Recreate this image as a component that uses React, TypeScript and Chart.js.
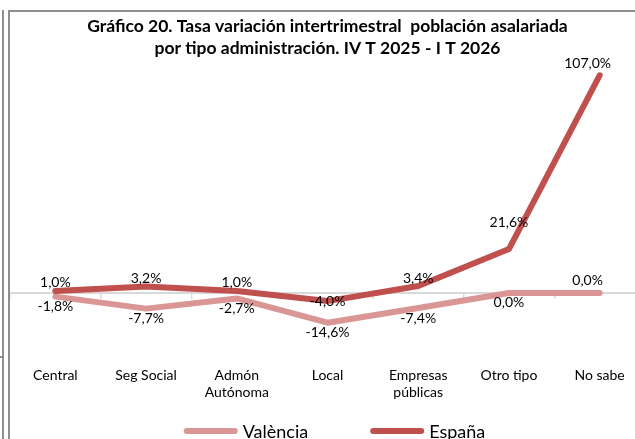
import React, { useEffect, useRef } from "react";
import { Chart, registerables } from "chart.js";

Chart.register(...registerables);

const TITLE_LINES = [
  "Gráfico 20. Tasa variación intertrimestral  población asalariada",
  "por tipo administración. IV T 2025 - I T 2026",
];
const CATEGORIES: (string | string[])[] = [
  "Central",
  "Seg Social",
  ["Admón", "Autónoma"],
  "Local",
  ["Empresas", "públicas"],
  "Otro tipo",
  "No sabe",
];
const SERIES_NAMES = ["València", "España"];
const VALENCIA = [-1.8, -7.7, -2.7, -14.6, -7.4, 0.0, 0.0];
const ESPANA = [1.0, 3.2, 1.0, -4.0, 3.4, 21.6, 107.0];
const Y_MIN = -30;
const Y_MAX = 115;

const FONT = "Lato";

const fmt = (v: number) => v.toFixed(1).replace(".", ",") + "%";

const pointLabelPlugin = {
  id: "pointLabels",
  afterDatasetsDraw(chart: any) {
    const ctx = chart.ctx;
    ctx.save();
    ctx.font = `14px ${FONT}`;
    ctx.fillStyle = "#000";
    ctx.textAlign = "center";
    ctx.textBaseline = "middle";
    chart.data.datasets.forEach((ds: any, di: number) => {
      const meta = chart.getDatasetMeta(di);
      const pos: string[] = ds.labelPos || [];
      meta.data.forEach((el: any, i: number) => {
        const v = ds.data[i];
        const p = pos[i] || "above";
        let dy = -8;
        let dx = 0;
        if (p === "below") dy = 10;
        if (p === "high") dy = -27;
        if (p === "center") dy = 0;
        if (p === "aboveLeft") {
          dy = -12;
          dx = -12;
        }
        ctx.fillText(fmt(v), el.x + dx, el.y + dy);
      });
    });
    ctx.restore();
  },
};

const lineLegendPlugin = {
  id: "lineLegend",
  afterDraw(chart: any) {
    const ctx = chart.ctx;
    const area = chart.chartArea;
    ctx.save();
    ctx.font = `18px ${FONT}`;
    ctx.textBaseline = "middle";
    ctx.textAlign = "left";
    const swatch = 54;
    const gap = 5;
    const between = 62;
    const items = chart.data.datasets.map((ds: any) => ({
      label: ds.label,
      color: ds.borderColor,
      w: swatch + gap + ctx.measureText(ds.label).width,
    }));
    const total =
      items.reduce((s: number, it: any) => s + it.w, 0) + between * (items.length - 1);
    let x = (area.left + area.right) / 2 + 7 - total / 2;
    const y = chart.height - 18;
    items.forEach((it: any) => {
      ctx.strokeStyle = it.color;
      ctx.lineWidth = 6;
      ctx.lineCap = "round";
      ctx.beginPath();
      ctx.moveTo(x + 3, y);
      ctx.lineTo(x + swatch - 3, y);
      ctx.stroke();
      ctx.fillStyle = "#000";
      ctx.fillText(it.label, x + swatch + gap, y + 1);
      x += it.w + between;
    });
    ctx.restore();
  },
};

export default function App() {
  const ref = useRef<HTMLCanvasElement>(null);

  useEffect(() => {
    document.body.style.margin = "0";
    const chart = new Chart(ref.current as HTMLCanvasElement, {
      type: "line",
      data: {
        labels: CATEGORIES as any,
        datasets: [
          {
            label: SERIES_NAMES[0],
            data: VALENCIA,
            borderColor: "#DA9694",
            backgroundColor: "#DA9694",
            borderWidth: 6,
            pointRadius: 0,
            borderCapStyle: "round",
            borderJoinStyle: "round",
            order: 1,
            labelPos: ["below", "below", "below", "below", "below", "below", "aboveLeft"],
          } as any,
          {
            label: SERIES_NAMES[1],
            data: ESPANA,
            borderColor: "#C0504D",
            backgroundColor: "#C0504D",
            borderWidth: 6,
            pointRadius: 0,
            borderCapStyle: "round",
            borderJoinStyle: "round",
            order: 0,
            labelPos: ["above", "above", "above", "center", "above", "high", "aboveLeft"],
          } as any,
        ],
      },
      options: {
        responsive: false,
        animation: false,
        devicePixelRatio: 1,
        layout: { padding: { left: 30, right: 5, top: 0, bottom: 40 } },
        plugins: {
          title: {
            display: true,
            text: TITLE_LINES,
            color: "#000",
            font: { family: FONT, size: 17.5, weight: "bold", lineHeight: "21.5px" } as any,
            padding: { top: 16, bottom: 0 },
            fullSize: true,
          },
          legend: { display: false },
          tooltip: { enabled: false },
        },
        scales: {
          x: {
            type: "category",
            offset: true,
            grid: { display: false, drawTicks: false },
            border: { display: false },
            ticks: {
              padding: 13,
              color: "#000",
              autoSkip: false,
              maxRotation: 0,
              font: { family: FONT, size: 14, lineHeight: "17px" } as any,
            },
            afterFit: (s: any) => {
              s.height = 55;
            },
          },
          x2: {
            type: "category",
            position: { y: 0 } as any,
            offset: true,
            grid: {
              offset: true,
              drawOnChartArea: false,
              drawTicks: true,
              tickLength: 5,
              color: "#D9D9D9",
              lineWidth: 1.5,
            },
            border: { display: true, color: "#D9D9D9", width: 2 },
            ticks: { display: false },
          },
          y: { display: false, min: Y_MIN, max: Y_MAX },
        },
      },
      plugins: [pointLabelPlugin, lineLegendPlugin],
    });
    return () => chart.destroy();
  }, []);

  const line = "#8f8f8f";
  return (
    <div
      style={{
        position: "relative",
        width: 635,
        height: 439,
        overflow: "hidden",
        background: "#fff",
      }}
    >
      <div style={{ position: "absolute", left: -20, top: 0, width: 670, height: 449 }}>
        <canvas ref={ref} width={670} height={449} style={{ display: "block" }} />
      </div>
      <div style={{ position: "absolute", left: 2, top: 10, width: 2, height: 429, background: line }} />
      <div style={{ position: "absolute", left: 0, top: 356, width: 3, height: 2, background: line }} />
      <div style={{ position: "absolute", left: 8, top: 10, width: 2, height: 429, background: line }} />
      <div style={{ position: "absolute", left: 8, top: 10, width: 627, height: 2, background: line }} />
    </div>
  );
}
